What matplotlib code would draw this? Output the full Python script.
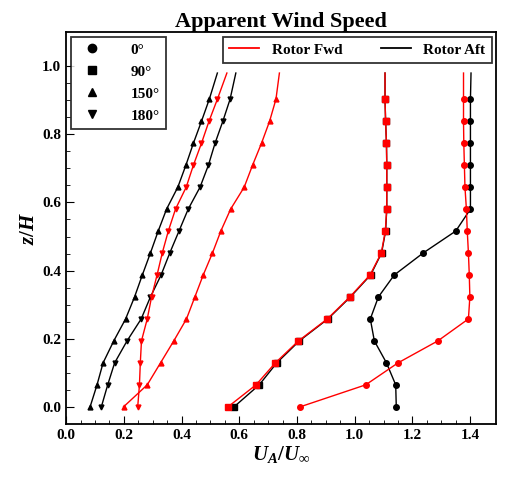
import numpy as np
import matplotlib
matplotlib.use("Agg")
import matplotlib.pyplot as plt
from matplotlib.lines import Line2D

plt.rcParams["font.family"] = ["Liberation Serif", "DejaVu Serif"]
plt.rcParams["font.weight"] = "bold"
plt.rcParams["mathtext.fontset"] = "custom"
plt.rcParams["mathtext.it"] = "Liberation Serif:italic:bold"
plt.rcParams["mathtext.rm"] = "Liberation Serif:bold"

# heights: 15 measured stations plus line end (no marker)
Z = list(np.arange(15) * 0.0645) + [0.98]

fwd_0   = [0.811, 1.038, 1.150, 1.288, 1.394, 1.399, 1.397, 1.394, 1.390, 1.387, 1.382, 1.380, 1.378, 1.377, 1.377, 1.377]
aft_0   = [1.144, 1.142, 1.110, 1.068, 1.054, 1.082, 1.137, 1.237, 1.350, 1.401, 1.401, 1.401, 1.401, 1.401, 1.401, 1.403]
fwd_90  = [0.561, 0.658, 0.725, 0.805, 0.905, 0.983, 1.053, 1.092, 1.106, 1.111, 1.111, 1.111, 1.110, 1.107, 1.105, 1.105]
aft_90  = [0.582, 0.669, 0.730, 0.808, 0.907, 0.985, 1.055, 1.093, 1.107, 1.111, 1.111, 1.111, 1.110, 1.107, 1.105, 1.105]
fwd_150 = [0.199, 0.281, 0.327, 0.373, 0.417, 0.446, 0.475, 0.507, 0.536, 0.570, 0.617, 0.646, 0.677, 0.705, 0.727, 0.739]
aft_150 = [0.083, 0.107, 0.128, 0.165, 0.206, 0.237, 0.264, 0.292, 0.319, 0.348, 0.387, 0.415, 0.441, 0.469, 0.496, 0.524]
fwd_180 = [0.248, 0.254, 0.257, 0.261, 0.281, 0.296, 0.315, 0.333, 0.354, 0.379, 0.416, 0.441, 0.469, 0.495, 0.524, 0.557]
aft_180 = [0.122, 0.144, 0.168, 0.211, 0.260, 0.292, 0.329, 0.359, 0.391, 0.423, 0.464, 0.493, 0.516, 0.543, 0.568, 0.588]

ANGLES = ["0°", "90°", "150°", "180°"]
MARKERS = ["o", "s", "^", "v"]

fig = plt.figure(figsize=(5.25, 4.8), dpi=100)
ax = fig.add_axes([0.126, 0.117, 0.819, 0.816])

mev = list(range(15))
for fwd, aft, m in zip([fwd_0, fwd_90, fwd_150, fwd_180], [aft_0, aft_90, aft_150, aft_180], MARKERS):
    ms = 4 if m in ("o", "s") else 3.5
    ax.plot(aft, Z, color="black", lw=1.0, marker=m, ms=ms, markevery=mev)
    ax.plot(fwd, Z, color="red", lw=1.0, marker=m, ms=ms, markevery=mev)

ax.set_xlim(0, 1.49)
ax.set_ylim(-0.05, 1.1)
ax.set_xticks(np.arange(0, 1.41, 0.2))
ax.set_yticks(np.arange(0, 1.01, 0.2))
ax.set_xticks(np.arange(0, 1.41, 0.05), minor=True)
ax.set_yticks(np.arange(0, 1.01, 0.05), minor=True)
ax.tick_params(direction="in", which="both", labelsize=11)
ax.tick_params(which="major", length=6)
ax.tick_params(which="minor", length=3)
for s in ax.spines.values():
    s.set_linewidth(1.3)

ax.set_xlabel(r"$U_A/U_\infty$", fontsize=15, labelpad=2)
ax.set_ylabel(r"$z/H$", fontsize=15, labelpad=2)
ax.set_title("Apparent Wind Speed", fontsize=16, fontweight="bold", pad=3)

h1 = [Line2D([], [], color="black", ls="", marker=m, ms=6) for m in MARKERS]
leg1 = ax.legend(h1, ANGLES, loc="upper left", fancybox=False, edgecolor="black",
                 fontsize=11, handletextpad=1.5, borderaxespad=0.3, labelspacing=0.55)
leg1.get_frame().set_linewidth(1.3)
ax.add_artist(leg1)
h2 = [Line2D([], [], color="red", lw=1.3), Line2D([], [], color="black", lw=1.3)]
leg2 = ax.legend(h2, ["Rotor Fwd", "Rotor Aft"], loc="upper right", ncol=2, fancybox=False,
                 edgecolor="black", fontsize=11, borderaxespad=0.3, columnspacing=2.5)
leg2.get_frame().set_linewidth(1.3)

fig.savefig("out.png", dpi=100, facecolor="white")
